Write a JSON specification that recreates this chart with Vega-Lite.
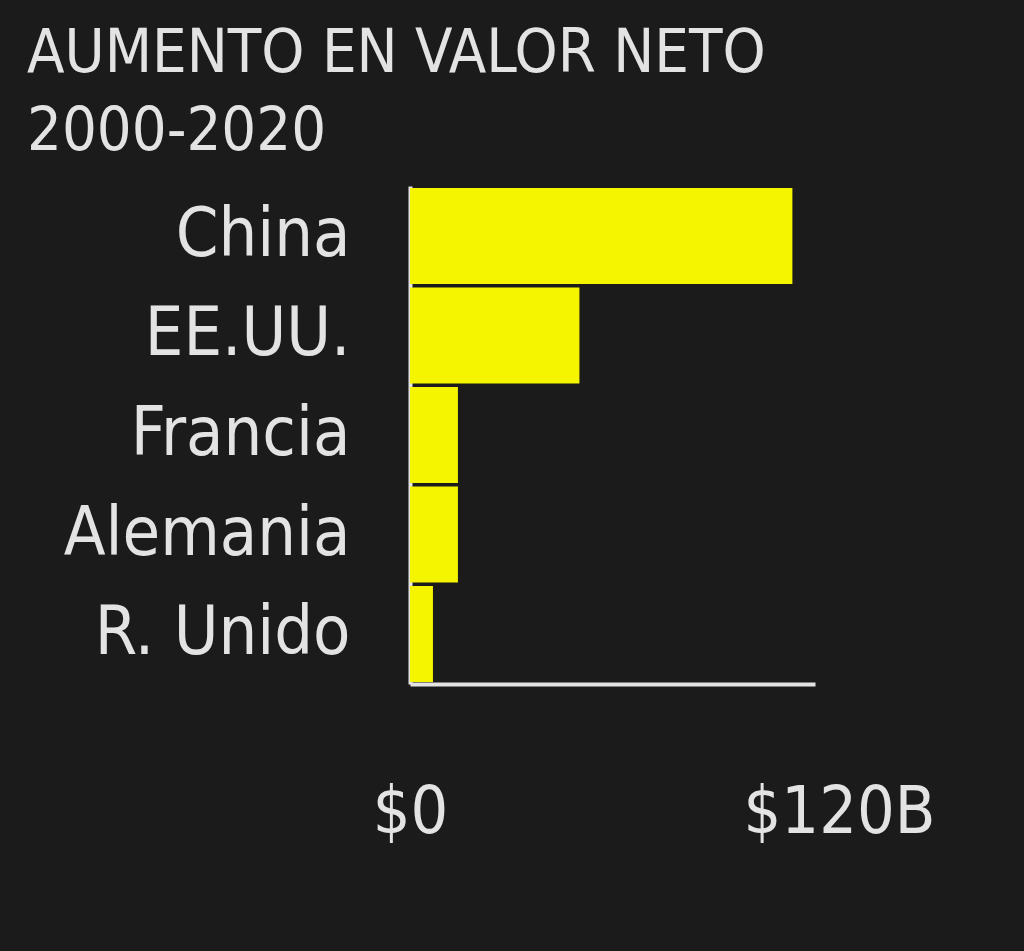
{
  "$schema": "https://vega.github.io/schema/vega-lite/v6.json",
  "width": 405,
  "height": 498,
  "autosize": {"type": "none"},
  "padding": {"left": 410, "top": 186, "right": 209, "bottom": 267},
  "background": "#1b1b1b",
  "view": {"stroke": null},
  "title": {
    "text": ["AUMENTO EN VALOR NETO", "2000-2020"],
    "anchor": "start",
    "frame": "group",
    "dx": -383,
    "dy": -19,
    "baseline": "top",
    "font": "Liberation Sans Narrow, DejaVu Sans Condensed, Roboto Condensed, sans-serif",
    "fontSize": 61,
    "fontWeight": "normal",
    "color": "#e3e3e3",
    "lineHeight": 78
  },
  "data": {
    "values": [
      {"pais": "China", "valor": 113.3},
      {"pais": "EE.UU.", "valor": 50.2},
      {"pais": "Francia", "valor": 14.2},
      {"pais": "Alemania", "valor": 14.2},
      {"pais": "R. Unido", "valor": 6.8}
    ]
  },
  "mark": {"type": "bar", "color": "#f5f500"},
  "encoding": {
    "y": {
      "field": "pais",
      "type": "nominal",
      "sort": null,
      "scale": {"paddingInner": 0.035, "paddingOuter": 0.02},
      "axis": {
        "title": null,
        "ticks": false,
        "domainColor": "#e3e3e3",
        "domainWidth": 4,
        "labelFont": "Liberation Sans Narrow, DejaVu Sans Condensed, Roboto Condensed, sans-serif",
        "labelFontSize": 68,
        "labelColor": "#e3e3e3",
        "labelPadding": 60,
        "labelLimit": 400
      }
    },
    "x": {
      "field": "valor",
      "type": "quantitative",
      "scale": {"domain": [0, 120], "nice": false},
      "axis": {
        "title": null,
        "values": [0, 120],
        "labelExpr": "datum.value == 0 ? '$0' : '$120B'",
        "ticks": false,
        "grid": false,
        "domainColor": "#e3e3e3",
        "domainWidth": 4,
        "labelFont": "Liberation Sans Narrow, DejaVu Sans Condensed, Roboto Condensed, sans-serif",
        "labelFontSize": 66,
        "labelColor": "#e3e3e3",
        "labelPadding": 96,
        "labelLimit": 400,
        "labelFlush": false,
        "labelBound": false,
        "labelOverlap": false,
        "labelOffset": {"condition": {"test": "datum.value == 120", "value": 24}, "value": 0}
      }
    }
  }
}
